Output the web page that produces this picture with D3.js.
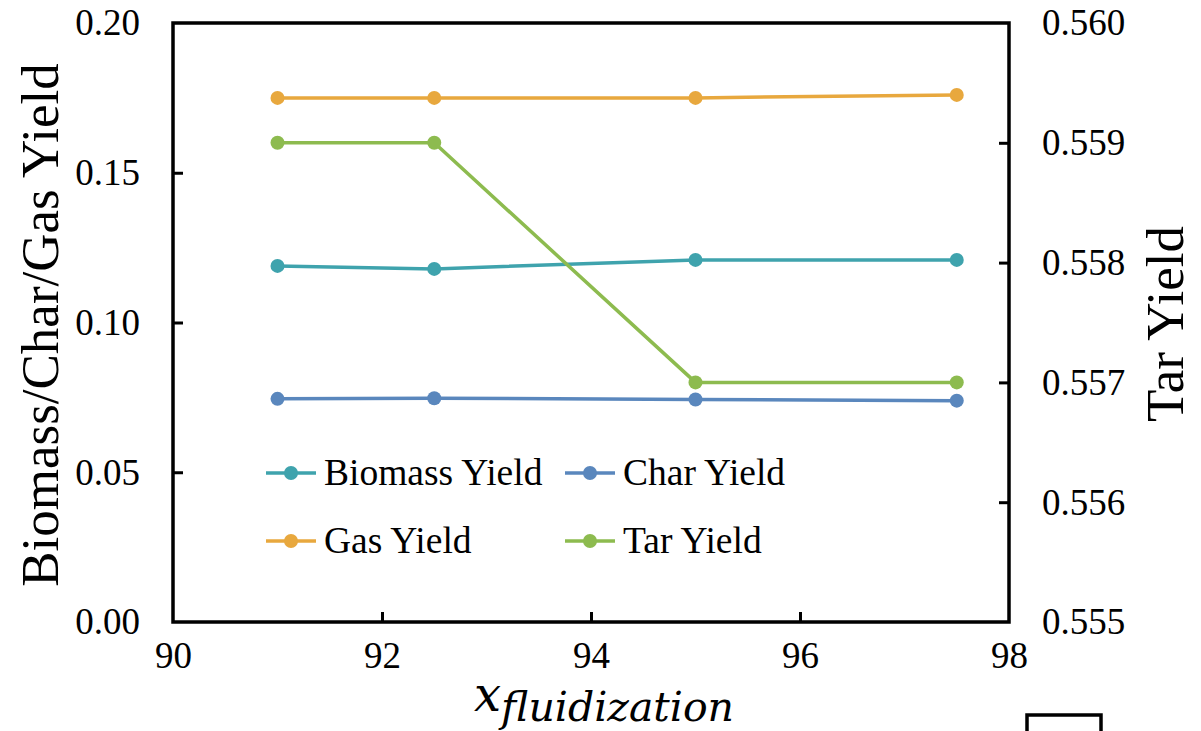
<!DOCTYPE html>
<html>
<head>
<meta charset="utf-8">
<script src="https://cdn.jsdelivr.net/npm/d3@7"></script>
<style>
  body { margin: 0; background: #fff; }
  svg { display: block; }
</style>
</head>
<body>
<script>
// data
const xValues = [91, 92.5, 95, 97.5];
const biomassYield = [0.1189, 0.1179, 0.1209, 0.1209];
const charYield = [0.0745, 0.0747, 0.0743, 0.0739];
const gasYield = [0.1750, 0.1750, 0.1750, 0.1760];
const tarYield = [0.5590, 0.5590, 0.5570, 0.5570];

const xTicks = [90, 92, 94, 96, 98];
const leftTicks = [0, 0.05, 0.10, 0.15, 0.20];
const rightTicks = [0.555, 0.556, 0.557, 0.558, 0.559, 0.560];

const SERIF = "'Times New Roman', Times, 'Liberation Serif', 'DejaVu Serif', serif";

const W = 1201, H = 731;
const m = {left: 173, right: 1009, top: 23, bottom: 622};

const svg = d3.select("body").append("svg")
  .attr("width", W)
  .attr("height", H)
  .attr("font-family", SERIF);

const x = d3.scaleLinear().domain([90, 98]).range([m.left, m.right]);
const yL = d3.scaleLinear().domain([0, 0.2]).range([m.bottom, m.top]);
const yR = d3.scaleLinear().domain([0.555, 0.560]).range([m.bottom, m.top]);

const series = [
  {name: "Biomass Yield", values: biomassYield, color: "#3fa3ad", y: yL},
  {name: "Char Yield", values: charYield, color: "#5a87bd", y: yL},
  {name: "Gas Yield", values: gasYield, color: "#e8a83e", y: yL},
  {name: "Tar Yield", values: tarYield, color: "#8dbb4f", y: yR}
];

// axes (ticks point inward)
const axisStyle = g => {
  g.attr("font-family", SERIF);
  g.select(".domain").remove();
  g.selectAll(".tick line").attr("stroke", "#000").attr("stroke-width", 3);
  g.selectAll(".tick text").attr("fill", "#000").style("font-family", SERIF).style("font-size", "37px");
};

svg.append("g")
  .attr("transform", `translate(0,${m.bottom})`)
  .call(d3.axisBottom(x).tickValues(xTicks).tickSize(-10).tickPadding(20).tickFormat(d3.format("d")))
  .call(axisStyle)
  .call(g => g.selectAll(".tick line").filter(d => d === 90 || d === 98).remove());

svg.append("g")
  .attr("transform", `translate(${m.left},0)`)
  .call(d3.axisLeft(yL).tickValues(leftTicks).tickSize(-10).tickPadding(33).tickFormat(d3.format(".2f")))
  .call(axisStyle)
  .call(g => g.selectAll(".tick line").filter(d => d === 0 || d === 0.2).remove());

svg.append("g")
  .attr("transform", `translate(${m.right},0)`)
  .call(d3.axisRight(yR).tickValues(rightTicks).tickSize(-10).tickPadding(33).tickFormat(d3.format(".3f")))
  .call(axisStyle)
  .call(g => g.selectAll(".tick line").filter(d => d === 0.555 || d === 0.560).remove());

// frame
svg.append("rect")
  .attr("x", m.left).attr("y", m.top)
  .attr("width", m.right - m.left).attr("height", m.bottom - m.top)
  .attr("fill", "none").attr("stroke", "#000").attr("stroke-width", 3.5);

// lines and markers
series.forEach(s => {
  const line = d3.line().x((d, i) => x(xValues[i])).y(d => s.y(d));
  svg.append("path")
    .datum(s.values)
    .attr("d", line)
    .attr("fill", "none")
    .attr("stroke", s.color)
    .attr("stroke-width", 3.5);
  svg.selectAll(null)
    .data(s.values)
    .enter().append("circle")
    .attr("cx", (d, i) => x(xValues[i]))
    .attr("cy", d => s.y(d))
    .attr("r", 7)
    .attr("fill", s.color);
});

// legend
const legendPos = [[266, 473], [565, 473], [266, 541], [565, 541]];
series.forEach((s, i) => {
  const [lx, ly] = legendPos[i];
  const g = svg.append("g").attr("transform", `translate(${lx},${ly})`);
  g.append("line").attr("x1", 0).attr("x2", 50).attr("y1", 0).attr("y2", 0)
    .attr("stroke", s.color).attr("stroke-width", 3.5);
  g.append("circle").attr("cx", 25).attr("cy", 0).attr("r", 7).attr("fill", s.color);
  g.append("text").attr("x", 58).attr("y", 12)
    .style("font-family", SERIF).style("font-size", "37.5px").text(s.name);
});

// axis titles
svg.append("text")
  .attr("transform", `translate(58,325) rotate(-90)`)
  .attr("text-anchor", "middle")
  .style("font-family", SERIF)
  .style("font-size", "53px")
  .text("Biomass/Char/Gas Yield");

svg.append("text")
  .attr("transform", `translate(1183,324) rotate(-90)`)
  .attr("text-anchor", "middle")
  .style("font-family", SERIF)
  .style("font-size", "53px")
  .text("Tar Yield");

const xt = svg.append("text")
  .attr("x", 474).attr("y", 711)
  .style("font-family", "'DejaVu Serif', 'Liberation Serif', serif")
  .style("font-style", "italic");
xt.append("tspan").style("font-size", "48px").text("x");
xt.append("tspan").attr("dy", 10).style("font-size", "41px").text("fluidization");

// partial box at lower right
svg.append("rect")
  .attr("x", 1027).attr("y", 715)
  .attr("width", 74).attr("height", 40)
  .attr("fill", "none").attr("stroke", "#000").attr("stroke-width", 3.5);
</script>
</body>
</html>
